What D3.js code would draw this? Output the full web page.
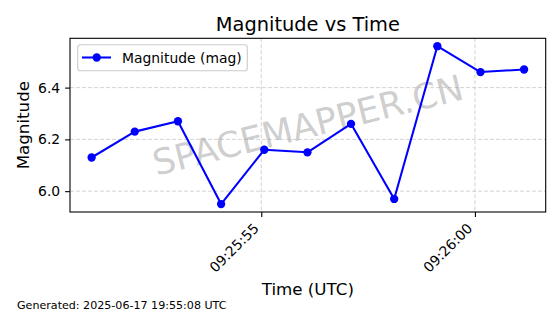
<!DOCTYPE html>
<html>
<head>
<meta charset="utf-8">
<script src="https://cdn.jsdelivr.net/npm/d3@7"></script>
<style>
  body { margin: 0; background: #fff; }
  svg { display: block; font-family: "DejaVu Sans", sans-serif; }
</style>
</head>
<body>
<div id="chart"></div>
<script>
// readings, one per second-ish
const times = [
  '2025-06-17T09:25:51.03Z', '2025-06-17T09:25:52.04Z', '2025-06-17T09:25:53.05Z',
  '2025-06-17T09:25:54.06Z', '2025-06-17T09:25:55.07Z', '2025-06-17T09:25:56.08Z',
  '2025-06-17T09:25:57.10Z', '2025-06-17T09:25:58.11Z', '2025-06-17T09:25:59.12Z',
  '2025-06-17T09:26:00.13Z', '2025-06-17T09:26:01.15Z'
];
const magnitudes = [6.13, 6.23, 6.27, 5.95, 6.16, 6.15, 6.26, 5.97, 6.56, 6.46, 6.47];
const yTicks = [6.0, 6.2, 6.4];
const xTickLabels = ['09:25:55', '09:26:00'];

const data = times.map((t, i) => ({ time: new Date(t), mag: magnitudes[i] }));

const width = 560;
const height = 314;
const margin = { left: 70, right: 14.3, top: 38.3, bottom: 102 };
const x0 = margin.left, x1 = width - margin.right;
const y0 = margin.top, y1 = height - margin.bottom;

const svg = d3.select('#chart')
  .append('svg')
  .attr('width', width)
  .attr('height', height);

// matplotlib-style 5% margins
function pad(ext) {
  const r = ext[1] - ext[0];
  return [ext[0] - r * 0.05, ext[1] + r * 0.05];
}
const tExt = d3.extent(data, d => +d.time);
const tDom = pad(tExt);
const xScale = d3.scaleUtc().domain([new Date(tDom[0]), new Date(tDom[1])]).range([x0, x1]);
const yScale = d3.scaleLinear().domain(pad(d3.extent(magnitudes))).range([y1, y0]);

const xTicks = xTickLabels.map(s => new Date('2025-06-17T' + s + 'Z'));
const fmt = d3.utcFormat('%H:%M:%S');

// grid
const grid = svg.append('g')
  .attr('stroke', '#b0b0b0')
  .attr('stroke-opacity', 0.7)
  .attr('stroke-width', 0.8)
  .attr('stroke-dasharray', '4,2');
grid.selectAll('line.gy')
  .data(yTicks)
  .join('line')
  .attr('x1', x0).attr('x2', x1)
  .attr('y1', d => yScale(d)).attr('y2', d => yScale(d));
grid.selectAll('line.gx')
  .data(xTicks)
  .join('line')
  .attr('x1', d => xScale(d)).attr('x2', d => xScale(d))
  .attr('y1', y0).attr('y2', y1);

// watermark
svg.append('text')
  .attr('transform', `translate(${(x0 + x1) / 2},${(y0 + y1) / 2}) rotate(-14)`)
  .attr('text-anchor', 'middle')
  .attr('dominant-baseline', 'central')
  .attr('font-size', 35.5)
  .attr('fill', '#808080')
  .attr('fill-opacity', 0.4)
  .text('SPACEMAPPER.CN');

// line + markers
const line = d3.line()
  .x(d => xScale(d.time))
  .y(d => yScale(d.mag));

svg.append('path')
  .datum(data)
  .attr('d', line)
  .attr('fill', 'none')
  .attr('stroke', '#0000ff')
  .attr('stroke-width', 2.08)
  .attr('stroke-linejoin', 'round');

svg.append('g')
  .selectAll('circle')
  .data(data)
  .join('circle')
  .attr('cx', d => xScale(d.time))
  .attr('cy', d => yScale(d.mag))
  .attr('r', 4.17)
  .attr('fill', '#0000ff');

// axes
const xAxis = svg.append('g')
  .attr('transform', `translate(0,${y1})`)
  .call(d3.axisBottom(xScale).tickValues(xTicks).tickFormat(fmt).tickSize(4.9).tickPadding(0));
xAxis.select('.domain').remove();
xAxis.selectAll('line').attr('stroke', '#000').attr('stroke-width', 1.1);
xAxis.selectAll('text')
  .attr('font-family', 'DejaVu Sans')
  .attr('font-size', 13.9)
  .attr('fill', '#000')
  .attr('text-anchor', 'end')
  .attr('dy', null)
  .attr('y', null)
  .attr('transform', 'translate(-2.1,17.2) rotate(-45)');

const yAxis = svg.append('g')
  .attr('transform', `translate(${x0},0)`)
  .call(d3.axisLeft(yScale).tickValues(yTicks).tickFormat(d3.format('.1f')).tickSize(4.9).tickPadding(4.9));
yAxis.select('.domain').remove();
yAxis.selectAll('line').attr('stroke', '#000').attr('stroke-width', 1.1);
yAxis.selectAll('text')
  .attr('font-family', 'DejaVu Sans')
  .attr('font-size', 13.9)
  .attr('fill', '#000');

// frame
svg.append('rect')
  .attr('x', x0).attr('y', y0)
  .attr('width', x1 - x0).attr('height', y1 - y0)
  .attr('fill', 'none')
  .attr('stroke', '#000')
  .attr('stroke-width', 1.1);

// legend
const leg = svg.append('g');
leg.append('rect')
  .attr('x', 77.7).attr('y', 44.7)
  .attr('width', 169.6).attr('height', 26)
  .attr('rx', 2.8)
  .attr('fill', '#fff').attr('fill-opacity', 0.8)
  .attr('stroke', '#cccccc').attr('stroke-width', 1.1);
leg.append('line')
  .attr('x1', 82).attr('x2', 111)
  .attr('y1', 57.5).attr('y2', 57.5)
  .attr('stroke', '#0000ff').attr('stroke-width', 2.08);
leg.append('circle')
  .attr('cx', 96.7).attr('cy', 57.5).attr('r', 4.17)
  .attr('fill', '#0000ff');
leg.append('text')
  .attr('x', 122).attr('y', 62.6)
  .attr('font-size', 13.9)
  .text('Magnitude (mag)');

// titles
svg.append('text')
  .attr('x', (x0 + x1) / 2).attr('y', 30.5)
  .attr('text-anchor', 'middle')
  .attr('font-size', 19.4)
  .text('Magnitude vs Time');

svg.append('text')
  .attr('x', (x0 + x1) / 2).attr('y', 295)
  .attr('text-anchor', 'middle')
  .attr('font-size', 16.7)
  .text('Time (UTC)');

svg.append('text')
  .attr('transform', `translate(29,${(y0 + y1) / 2}) rotate(-90)`)
  .attr('text-anchor', 'middle')
  .attr('font-size', 16.7)
  .text('Magnitude');

svg.append('text')
  .attr('x', 17).attr('y', 309)
  .attr('font-size', 11.1)
  .text('Generated: 2025-06-17 19:55:08 UTC');
</script>
</body>
</html>
